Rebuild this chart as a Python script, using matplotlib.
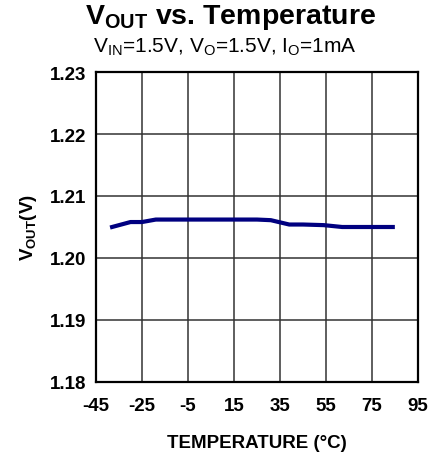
import matplotlib
matplotlib.use("Agg")
import matplotlib.pyplot as plt

plt.rcParams['font.family'] = ['Liberation Sans', 'DejaVu Sans']
plt.rcParams['mathtext.fontset'] = 'custom'
plt.rcParams['mathtext.rm'] = 'Liberation Sans'
plt.rcParams['mathtext.it'] = 'Liberation Sans'
plt.rcParams['mathtext.bf'] = 'Liberation Sans:bold'

# Data
temps = [-38, -30, -25, -19, -10, 0, 10, 20, 25, 31, 39, 45, 54, 62, 70, 84]
vout = [1.2050, 1.2058, 1.2058, 1.2062, 1.2062, 1.2062, 1.2062, 1.2062, 1.2062,
        1.2061, 1.2054, 1.2054, 1.2053, 1.2050, 1.2050, 1.2050]

x_ticks = [-45, -25, -5, 15, 35, 55, 75, 95]
y_ticks = [1.18, 1.19, 1.20, 1.21, 1.22, 1.23]

fig = plt.figure(figsize=(4.31, 4.60), dpi=100)
ax = fig.add_axes([0.2227, 0.1674, 0.7473, 0.6739])

ax.plot(temps, vout, color="#000080", linewidth=3)

ax.set_xlim(-45, 95)
ax.set_ylim(1.18, 1.23)
ax.set_xticks(x_ticks)
ax.set_yticks(y_ticks)
ax.set_xticklabels([str(t) for t in x_ticks], fontsize=13.5, fontweight="bold")
ax.set_yticklabels([f"{v:.2f}" for v in y_ticks], fontsize=13.5, fontweight="bold")
ax.tick_params(axis="x", length=0, pad=11)
ax.tick_params(axis="y", length=0, pad=7)
ax.grid(True, color="#333333", linewidth=1.1)
for s in ax.spines.values():
    s.set_linewidth(1.6)
    s.set_color("black")

ax.set_xlabel("TEMPERATURE (°C)", fontsize=13.5, fontweight="bold", labelpad=14)
ax.set_ylabel(r"$\mathbf{V_{OUT}}$(V)", fontsize=13.5, fontweight="bold", labelpad=8)

fig.text(0.535, 0.962, r"$\mathbf{V_{OUT}}$ vs. Temperature", fontsize=20.5,
         fontweight="bold", ha="center", va="center")
fig.text(0.522, 0.898, r"$\mathrm{V_{IN}}$=1.5V, $\mathrm{V_{O}}$=1.5V, $\mathrm{I_{O}}$=1mA",
         fontsize=15, ha="center", va="center")

fig.savefig("out.png", dpi=100)
